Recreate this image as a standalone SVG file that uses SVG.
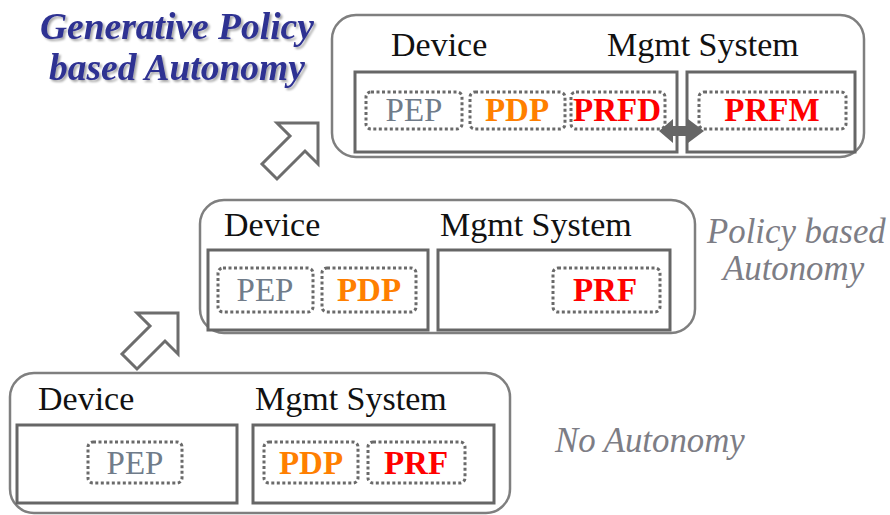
<svg xmlns="http://www.w3.org/2000/svg" width="890" height="515" viewBox="0 0 890 515">
  <defs>
    <filter id="shadow" x="-10%" y="-20%" width="130%" height="150%">
      <feDropShadow dx="2" dy="2" stdDeviation="1.2" flood-color="#000" flood-opacity="0.35"/>
    </filter>
  </defs>
  <style>
    .stage { fill: #fff; stroke: #7f7f7f; stroke-width: 2.5; }
    .box { fill: #fff; stroke: #666; stroke-width: 3; }
    .func { fill: none; stroke: #6a6a6a; stroke-width: 3; stroke-dasharray: 3 2.5; }
    .hdr { font-size: 34px; fill: #111; }
    .fn { font-size: 33px; text-anchor: middle; }
    .pep { fill: #707c8a; }
    .pdp { fill: #ff7f00; font-weight: bold; }
    .prf { fill: #ff0000; font-weight: bold; }
    .level { font-style: italic; font-size: 34.8px; fill: #7d7d85; }
    .title { font-style: italic; font-weight: bold; font-size: 37.5px; fill: #2e3192; }
    .up { fill: #fff; stroke: #6d6d6d; stroke-width: 3; stroke-linejoin: miter; }
    .dbl { fill: #666; }
  </style>

  <g font-family="Liberation Serif, Times New Roman, DejaVu Serif, serif">
    <!-- Stage 1: no autonomy -->
    <g id="stage-none">
      <rect class="stage" x="10" y="373" width="500" height="140" rx="24"/>
      <text class="hdr" x="38" y="410">Device</text>
      <text class="hdr" x="255" y="410">Mgmt System</text>
      <rect class="box" x="17" y="425" width="220" height="78"/>
      <rect class="box" x="253" y="425" width="241" height="78"/>
      <rect class="func" x="88" y="442" width="94" height="41" rx="5"/>
      <text class="fn pep" x="135" y="474">PEP</text>
      <rect class="func" x="264" y="442" width="94" height="41" rx="5"/>
      <text class="fn pdp" x="311" y="474">PDP</text>
      <rect class="func" x="368" y="442" width="97" height="41" rx="5"/>
      <text class="fn prf" x="416" y="474">PRF</text>
    </g>
    <text id="label-none" class="level" x="555" y="452">No Autonomy</text>

    <!-- Stage 2: policy based autonomy -->
    <g id="stage-policy">
      <rect class="stage" x="200" y="200" width="495" height="133" rx="24"/>
      <text class="hdr" x="224" y="236">Device</text>
      <text class="hdr" x="440" y="236">Mgmt System</text>
      <rect class="box" x="208" y="250" width="220" height="80"/>
      <rect class="box" x="438" y="250" width="232" height="80"/>
      <rect class="func" x="218" y="268" width="95" height="44" rx="5"/>
      <text class="fn pep" x="265" y="301">PEP</text>
      <rect class="func" x="322" y="268" width="94" height="44" rx="5"/>
      <text class="fn pdp" x="369" y="301">PDP</text>
      <rect class="func" x="553" y="268" width="107" height="44" rx="5"/>
      <text class="fn prf" x="605" y="301">PRF</text>
    </g>
    <g id="label-policy" class="level">
      <text x="707" y="243">Policy based</text>
      <text x="723" y="280">Autonomy</text>
    </g>

    <!-- Stage 3: generative policy based autonomy -->
    <g id="stage-generative">
      <rect class="stage" x="332" y="15" width="532" height="142" rx="24"/>
      <text class="hdr" x="391" y="56">Device</text>
      <text class="hdr" x="607" y="56">Mgmt System</text>
      <rect class="box" x="355" y="72" width="322" height="80"/>
      <rect class="box" x="687" y="72" width="168" height="80"/>
      <rect class="func" x="366" y="92" width="96" height="37" rx="5"/>
      <text class="fn pep" x="414" y="121">PEP</text>
      <rect class="func" x="470" y="92" width="95" height="37" rx="5"/>
      <text class="fn pdp" x="517" y="121">PDP</text>
      <rect class="func" x="571" y="92" width="94" height="37" rx="5"/>
      <text class="fn prf" x="617" y="121">PRFD</text>
      <rect class="func" x="699" y="92" width="147" height="37" rx="5"/>
      <text class="fn prf" x="772" y="121">PRFM</text>
    </g>
    <g id="label-generative" class="title" filter="url(#shadow)">
      <text x="40" y="39">Generative Policy</text>
      <text x="49" y="80">based Autonomy</text>
    </g>
  </g>

  <!-- Connectors -->
  <g id="connectors">
    <polygon class="up" points="178,313 178,354 165,341 137,369 122,354 150,326 137,313"/>
    <polygon class="up" points="318,123 318,164 305,151 277,179 262,164 290,136 277,123"/>
    <polygon class="dbl" points="659,131 673,119 673,126 688,126 688,119 704,131 688,143 688,136 673,136 673,143"/>
  </g>
</svg>
